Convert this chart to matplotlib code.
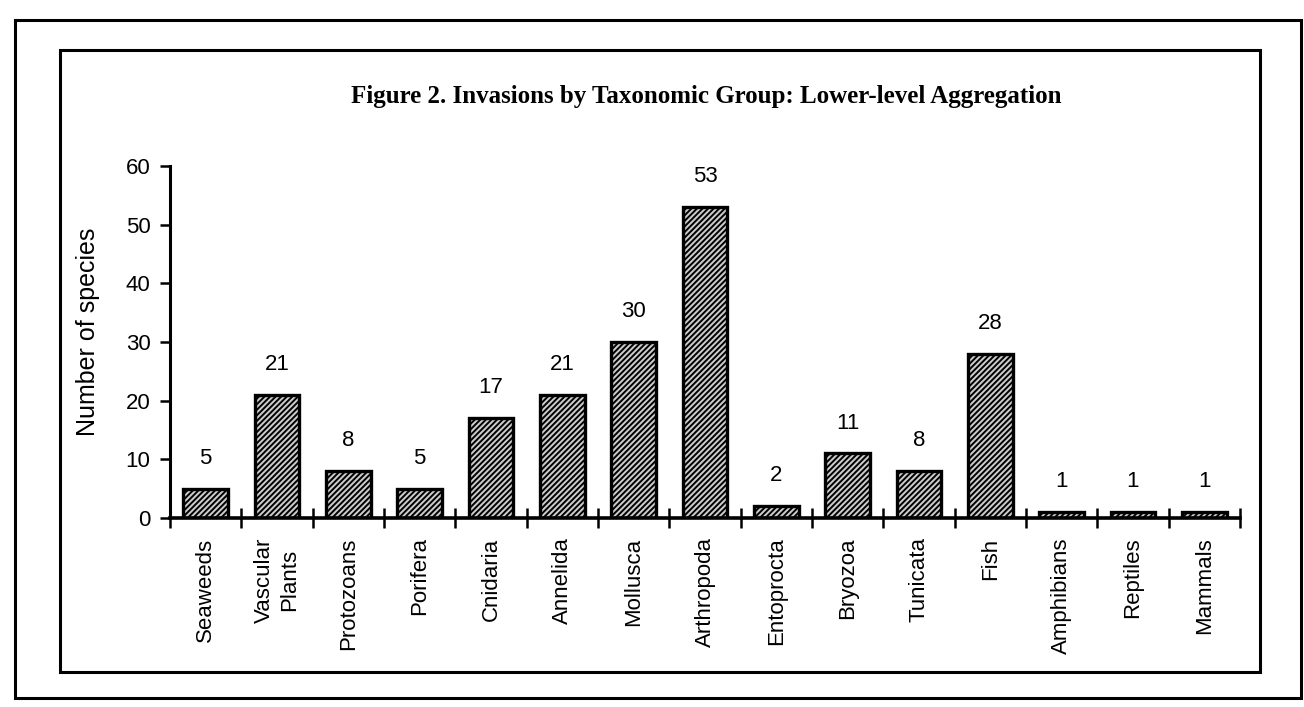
import matplotlib
matplotlib.use("Agg")
import matplotlib.pyplot as plt
from matplotlib.patches import Rectangle

groups = ["Seaweeds", "Vascular\nPlants", "Protozoans", "Porifera", "Cnidaria",
          "Annelida", "Mollusca", "Arthropoda", "Entoprocta", "Bryozoa",
          "Tunicata", "Fish", "Amphibians", "Reptiles", "Mammals"]
counts = [5, 21, 8, 5, 17, 21, 30, 53, 2, 11, 8, 28, 1, 1, 1]
yticks = [0, 10, 20, 30, 40, 50, 60]

W, H = 1304, 707
fig = plt.figure(figsize=(W / 100, H / 100), dpi=100)
plt.rcParams['hatch.linewidth'] = 1.4

# page frames (pixel coords, top-left origin)
def frame(x0, y0, x1, y1, lw):
    fig.add_artist(Rectangle((x0 / W, 1 - y1 / H), (x1 - x0) / W, (y1 - y0) / H,
                             transform=fig.transFigure, fill=False,
                             edgecolor="black", linewidth=lw))

frame(15, 20, 1301, 698, 2.2)
frame(60, 50, 1260, 672, 2.2)

ax = fig.add_axes([170 / W, 1 - 518 / H, (1240 - 170) / W, (518 - 166) / H])

x = list(range(len(groups)))
ax.bar(x, counts, width=0.63, facecolor="#cccccc", edgecolor="black",
       linewidth=2.4, hatch="//////", zorder=2)

for xi, c in zip(x, counts):
    ax.text(xi, c + 3.4, str(c), ha="center", va="bottom", fontsize=16,
            family="Liberation Sans")

ax.set_xlim(-0.5, len(groups) - 0.5)
ax.set_ylim(0, 60)
ax.set_yticks(yticks)
ax.set_yticklabels([str(v) for v in yticks], fontsize=16, family="Liberation Sans")
ax.set_ylabel("Number of species", fontsize=18, family="Liberation Sans")
ax.yaxis.label.set_va("center")
ax.yaxis.set_label_coords(-0.077, 0.53)

# category boundary ticks on the x axis
ax.set_xticks([i - 0.5 for i in range(len(groups) + 1)])
ax.set_xticklabels([])
ax.tick_params(axis="x", direction="inout", length=14, width=1.8)
ax.tick_params(axis="y", direction="out", length=7, width=1.8, pad=7)

for xi, g in zip(x, groups):
    ax.annotate(g, (xi, 0), xytext=(0, -14), textcoords="offset points",
                rotation=90, ha="center", va="top", fontsize=16,
                family="Liberation Sans", multialignment="center",
                linespacing=1.25)

for s in ["top", "right"]:
    ax.spines[s].set_visible(False)
ax.spines["left"].set_linewidth(2.2)
ax.spines["bottom"].set_linewidth(2.6)

fig.text(706 / W, 1 - 97 / H,
         "Figure 2. Invasions by Taxonomic Group: Lower-level Aggregation",
         ha="center", va="center", fontsize=18, fontweight="bold",
         family="Liberation Serif")

fig.savefig("out.png", dpi=100, facecolor="white")
